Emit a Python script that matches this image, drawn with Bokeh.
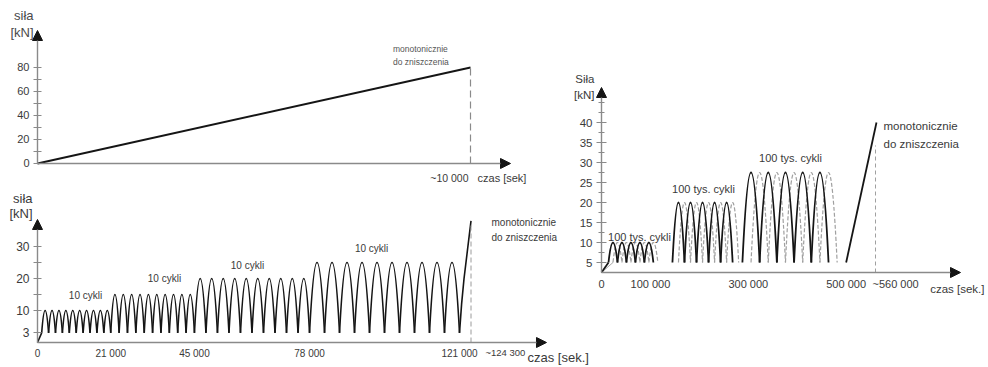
from bokeh.plotting import figure
from bokeh.models import (Range1d, FixedTicker, Label, Arrow, NormalHead,
                          ColumnDataSource, LinearAxis)
from bokeh.embed import file_html
from bokeh.resources import INLINE

# ---------------- data ----------------
# top chart: monotonic loading
top_time = [0, 10000]
top_force = [0, 80]
top_yticks = [0, 20, 40, 60, 80]
top_yminor = [10, 30, 50, 70]

# bottom-left chart: 4 blocks of 10 cycles, then monotonic to failure
bl_block_start = [1200, 21000, 45000, 78000]
bl_block_end = [21000, 45000, 78000, 121000]
bl_block_peak = [10, 15, 20, 25]
bl_block_min = [3, 3, 3, 3]
bl_block_cycles = [10, 10, 10, 10]
bl_ramp_time = [0, 1200]
bl_ramp_force = [0, 3]
bl_fail_time = [121000, 121600, 122300, 123300, 124300]
bl_fail_force = [3, 12, 20, 29, 38]
bl_fail_end = 124300
bl_xticks = [0, 21000, 45000, 78000, 121000]
bl_xlabels = ["0", "21 000", "45 000", "78 000", "121 000"]
bl_yticks = [3, 10, 20, 30]
bl_yminor = [15, 25]

# right chart: 3 blocks of 100k cycles (solid + dashed), then monotonic
r_block_start = [14300, 145000, 288000]
r_block_end = [106000, 268000, 464000]
r_block_peak = [10, 20, 27.5]
r_block_min = [5, 5, 5]
r_block_arcs = [5, 5, 5]
r_ramp_time = [0, 14300]
r_ramp_force = [2.5, 5]
r_ramp2_time = [0, 23500]
r_ramp2_force = [2.5, 5]
r_fail_time = [500000, 562000]
r_fail_force = [5, 40]
r_fail_end = 560000
r_xticks = [0, 100000, 300000, 500000]
r_xlabels = ["0", "100 000", "300 000", "500 000"]
r_yticks = [5, 10, 15, 20, 25, 30, 35, 40]
r_yminor = [7.5, 12.5, 17.5, 22.5, 27.5, 32.5, 37.5, 42.5, 45]

FONT = "Liberation Sans"
AX = "#8a8a8a"
TXT = "#3a3a3a"
INK = "#151515"
W, H = 986, 365


def arcs(starts, ends, counts, mins, peaks, shift=0.0):
    d = dict(x0=[], x1=[], cx=[], y0=[], y1=[], cy=[])
    for s, e, n, lo, hi in zip(starts, ends, counts, mins, peaks):
        per = (e - s) / n
        for k in range(n):
            a = s + (k + shift) * per
            b = a + per
            d["x0"].append(a); d["x1"].append(b); d["cx"].append((a + b) / 2)
            d["y0"].append(lo); d["y1"].append(lo); d["cy"].append(2 * hi - lo)
    return ColumnDataSource(d)


p = figure(width=W, height=H,
           x_range=Range1d(-854.5, 21916.6), y_range=Range1d(-168.33, 135.83),
           x_axis_location=None, y_axis_location=None,
           output_backend="svg", toolbar_location=None,
           min_border=0, min_border_left=0, min_border_right=0,
           min_border_top=0, min_border_bottom=0)
p.extra_x_ranges = {"bx": Range1d(-10609, 272107), "rx": Range1d(-1228311, 786854)}
p.extra_y_ranges = {"by": Range1d(-7.1875, 106.875), "ry": Range1d(-20.75, 70.5)}
p.outline_line_color = None
p.grid.visible = False
p.xgrid.visible = False
p.ygrid.visible = False


def axes(xn, yn, origin, tips, xticks, xlabels, xfs, xstand, yticks, yminor, yfs,
         ymaj=4, ymin=4):
    if xticks:
        xa = LinearAxis(x_range_name=xn, y_range_name=yn, fixed_location=origin[1],
                        ticker=FixedTicker(ticks=xticks, minor_ticks=[]))
        xa.major_label_overrides = {t: s for t, s in zip(xticks, xlabels)}
        xa.axis_line_color = None
        xa.major_tick_in = 0
        xa.major_tick_out = 0
        xa.minor_tick_in = 0
        xa.minor_tick_out = 0
        xa.major_label_text_font = FONT
        xa.major_label_text_font_size = xfs
        xa.major_label_text_color = TXT
        xa.major_label_standoff = xstand
        p.add_layout(xa, "below")
    ya = LinearAxis(x_range_name=xn, y_range_name=yn, fixed_location=origin[0],
                    ticker=FixedTicker(ticks=yticks, minor_ticks=yminor))
    ya.axis_line_color = None
    ya.major_tick_line_color = AX
    ya.minor_tick_line_color = AX
    ya.major_tick_line_width = 1.2
    ya.minor_tick_line_width = 1.2
    ya.major_tick_in = ymaj
    ya.major_tick_out = ymaj
    ya.minor_tick_in = ymin
    ya.minor_tick_out = ymin
    ya.major_label_text_font = FONT
    ya.major_label_text_font_size = yfs
    ya.major_label_text_color = TXT
    ya.major_label_standoff = 4
    p.add_layout(ya, "left")
    for (xe, ye) in [(origin[0], tips[1]), (tips[0], origin[1])]:
        p.add_layout(Arrow(end=NormalHead(size=10, fill_color=INK, line_color=INK, line_width=1),
                           x_start=origin[0], y_start=origin[1], x_end=xe, y_end=ye,
                           line_color=AX, line_width=1.4,
                           x_range_name=xn, y_range_name=yn))


def lab(xn, yn, x, y, text, size, align="left", baseline="middle", color=TXT):
    p.add_layout(Label(x=x, y=y, text=text, text_font=FONT, text_font_size=size,
                       text_align=align, text_baseline=baseline, text_color=color,
                       x_range_name=xn, y_range_name=yn))


# ---------------- top chart ----------------
axes("default", "default", (0, 0), (10924, 110.83), [], [], "11px", 4,
     top_yticks, top_yminor, "11px")
p.line(top_time, top_force, line_color=INK, line_width=2)
p.line([top_time[-1], top_time[-1]], [0, top_force[-1]], line_color=AX, line_width=1.2, line_dash="7 4")
T = ("default", "default")
lab(*T, -92, 123.3, "siła", "13px", align="right", color="#4a4a4a")
lab(*T, -92, 109.5, "[kN]", "13px", align="right", color="#4a4a4a")
lab(*T, 8210, 95, "monotonicznie", "8.5px", color="#555555")
lab(*T, 8210, 84.2, "do zniszczenia", "8.5px", color="#555555")
lab(*T, 9954, -11.7, "~10 000", "10.5px", align="right")
lab(*T, 10162, -11.7, "czas [sek]", "11px")

# ---------------- bottom-left chart ----------------
B = dict(x_range_name="bx", y_range_name="by")
axes("bx", "by", (0, 0), (145945, 38.44), bl_xticks, bl_xlabels, "10px", 5,
     bl_yticks, bl_yminor, "12px")
p.line(bl_ramp_time, bl_ramp_force, line_color=INK, line_width=1.6, **B)
p.quadratic(x0="x0", y0="y0", x1="x1", y1="y1", cx="cx", cy="cy",
            source=arcs(bl_block_start, bl_block_end, bl_block_cycles, bl_block_min, bl_block_peak),
            line_color=INK, line_width=1.6, **B)
p.line(bl_fail_time, bl_fail_force, line_color=INK, line_width=1.6, **B)
p.line([bl_fail_end, bl_fail_end], [0, 37.5], line_color="#9a9a9a", line_width=1, line_dash="5 3", **B)
lab("bx", "by", -1434, 45, "siła", "13px", align="right")
lab("bx", "by", -1434, 40.3, "[kN]", "13px", align="right")
for (x, y) in [(13760, 14.7), (36400, 20), (60200, 24.1), (95800, 29.4)]:
    lab("bx", "by", x, y, "10 cykli", "10px", align="center")
lab("bx", "by", 130175, 37.5, "monotonicznie", "10px")
lab("bx", "by", 130175, 32.8, "do zniszczenia", "10px")
lab("bx", "by", 128455, -3.1, "~124 300", "9.5px")
lab("bx", "by", 140498, -4.69, "czas [sek.]", "13px")

# ---------------- right chart ----------------
R = dict(x_range_name="rx", y_range_name="ry")
axes("rx", "ry", (0, 2.5), (733716, 48.75), r_xticks, r_xlabels, "11px", 5,
     r_yticks, r_yminor, "11.5px", ymaj=5, ymin=3)
p.line(r_ramp2_time, r_ramp2_force, line_color="#aaaaaa", line_width=1, **R)
p.quadratic(x0="x0", y0="y0", x1="x1", y1="y1", cx="cx", cy="cy",
            source=arcs(r_block_start, r_block_end, r_block_arcs, r_block_min, r_block_peak, shift=0.5),
            line_color="#a0a0a0", line_width=1.2, line_dash="4 2", **R)
p.line(r_ramp_time, r_ramp_force, line_color=INK, line_width=1.8, **R)
p.quadratic(x0="x0", y0="y0", x1="x1", y1="y1", cx="cx", cy="cy",
            source=arcs(r_block_start, r_block_end, r_block_arcs, r_block_min, r_block_peak),
            line_color=INK, line_width=1.8, **R)
p.line(r_fail_time, r_fail_force, line_color=INK, line_width=1.8, **R)
p.line([r_fail_end, r_fail_end], [2.5, 34.25], line_color="#a0a0a0", line_width=1, line_dash="4 3", **R)
lab("rx", "ry", -14306, 51, "Siła", "11.5px", align="right")
lab("rx", "ry", -14306, 47, "[kN]", "11.5px", align="right")
for (x, y) in [(77660, 11.5), (208500, 23.5), (386300, 31.25)]:
    lab("rx", "ry", x, y, "100 tys. cykli", "11px", align="center")
lab("rx", "ry", 576340, 39.25, "monotonicznie", "11.5px")
lab("rx", "ry", 576340, 34.75, "do zniszczenia", "11.5px")
lab("rx", "ry", 553864, -0.25, "~560 000", "11px")
lab("rx", "ry", 782767, -1.5, "czas [sek.]", "11.5px", align="right")

open("out.html", "w").write(file_html(p, INLINE))
